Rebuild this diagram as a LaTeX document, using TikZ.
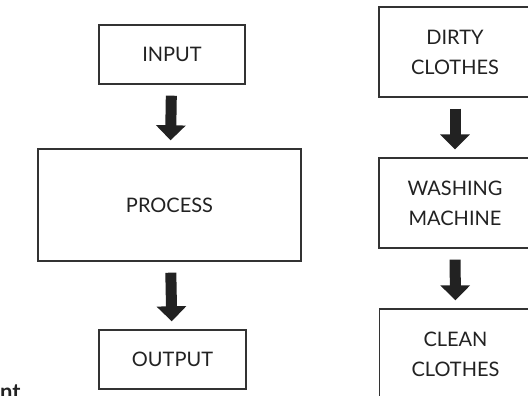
\documentclass[tikz,border=0pt]{standalone}
\usepackage{fontspec}
\setmainfont{Lato}
\usetikzlibrary{arrows.meta}
\definecolor{ink}{HTML}{222222}
\definecolor{edge}{HTML}{333333}
\tikzset{
  box/.style={draw=edge, line width=1.4pt, inner sep=0pt, text=ink,
    font=\fontsize{20}{30}\selectfont, align=center},
  bigarrow/.style={ink, line width=11pt,
    -{Triangle[width=29pt,length=15pt]}, shorten <=11pt, shorten >=8pt}
}
\begin{document}
\begin{tikzpicture}[x=1pt,y=-1pt]
\useasboundingbox (0,0) rectangle (528,396);
\clip (0,0) rectangle (528,396);
\fill[white] (0,0) rectangle (528,396);
\node[box, minimum width=146pt, minimum height=59pt] (input) at (172,54.5) {INPUT};
\node[box, minimum width=263pt, minimum height=112pt] (process) at (169.5,205) {PROCESS};
\node[box, minimum width=147pt, minimum height=59pt] (output) at (172.5,359.5) {OUTPUT};
\node[box, minimum width=152pt, minimum height=90pt] (dirty) at (455,52) {DIRTY\\CLOTHES};
\node[box, minimum width=152pt, minimum height=90pt] (washing) at (455,203) {WASHING\\MACHINE};
\node[box, minimum width=152pt, minimum height=90pt] (clean) at (455.5,354) {CLEAN\\CLOTHES};
\node[anchor=base west, inner sep=0pt, text=ink, font=\fontsize{22}{24}\selectfont\bfseries] (frag) at (0,399) {nt};
\draw[bigarrow] (input) -- (process);
\draw[bigarrow] (process) -- (output);
\draw[bigarrow] (dirty) -- (washing);
\draw[bigarrow] (washing) -- (clean);
\end{tikzpicture}
\end{document}
